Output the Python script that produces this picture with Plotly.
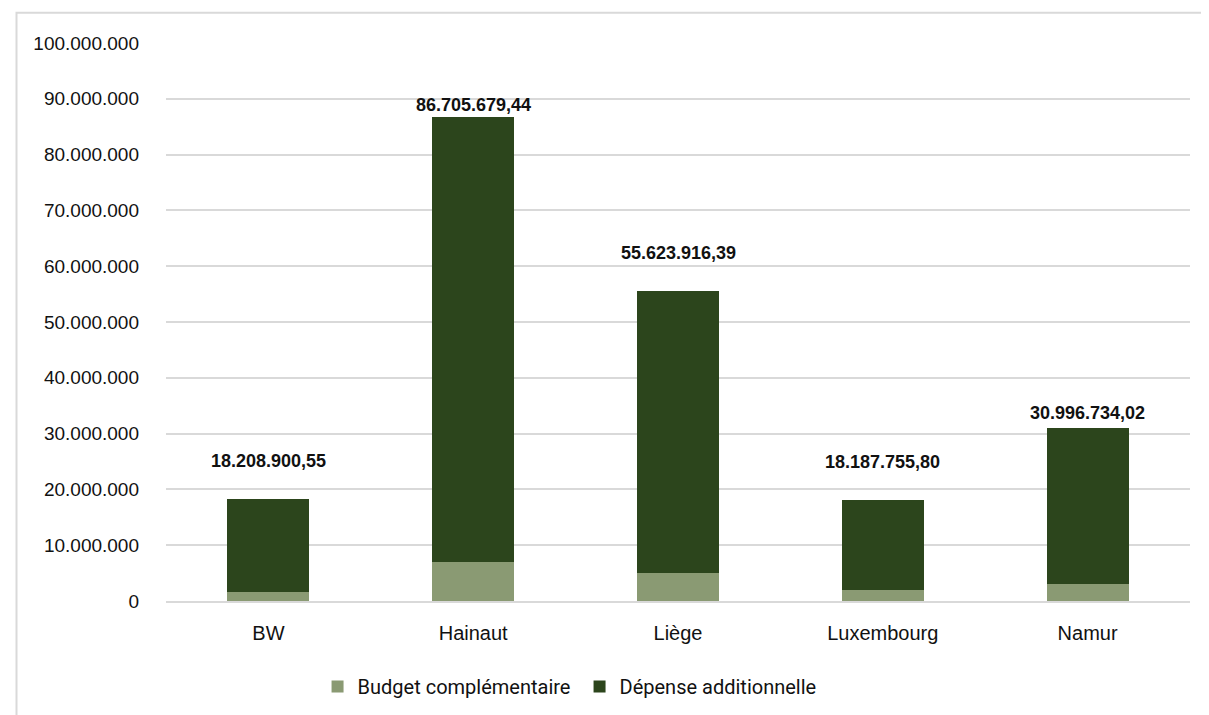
import plotly.graph_objects as go

categories = ["BW", "Hainaut", "Liège", "Luxembourg", "Namur"]
budget_complementaire = [1600000, 7000000, 5000000, 1900000, 3000000]
depense_additionnelle = [16608900.55, 79705679.44, 50623916.39, 16287755.80, 27996734.02]
totals = [18208900.55, 86705679.44, 55623916.39, 18187755.80, 30996734.02]
total_labels = ["18.208.900,55", "86.705.679,44", "55.623.916,39", "18.187.755,80", "30.996.734,02"]
label_shift = [38, 12, 38, 38, 15]
y_ticks = list(range(0, 100000001, 10000000))
y_tick_labels = ["0"] + [f"{v:,}".replace(",", ".") for v in y_ticks[1:]]

light = "#8a9a73"
dark = "#2c451c"

fig = go.Figure()
fig.add_trace(go.Bar(x=categories, y=budget_complementaire, name="Budget complémentaire",
                     marker=dict(color=light, line=dict(width=0))))
fig.add_trace(go.Bar(x=categories, y=depense_additionnelle, name="Dépense additionnelle",
                     marker=dict(color=dark, line=dict(width=0))))

for c, t, lab, s in zip(categories, totals, total_labels, label_shift):
    fig.add_annotation(x=c, y=t, text=f"<b>{lab}</b>", showarrow=False, yshift=s,
                       font=dict(family="Liberation Sans, Arial", size=18, color="#111111"))

fig.add_shape(type="rect", xref="paper", yref="paper", x0=-0.146, x1=1.2, y0=-0.6, y1=1.054,
              line=dict(color="#d9d9d9", width=2), fillcolor="rgba(0,0,0,0)", layer="below")

fig.update_layout(
    barmode="stack",
    bargap=0.6,
    width=1201, height=707,
    margin=dict(l=158, r=19, t=35, b=114),
    paper_bgcolor="white", plot_bgcolor="white",
    font=dict(family="Liberation Sans, Arial", size=19, color="#111111"),
    separators=",.",
    showlegend=True,
    legend=dict(orientation="h", x=0.148, xanchor="left", yref="container", y=0.068, yanchor="top",
                font=dict(family="Roboto, Liberation Sans", size=20, color="#111111"),
                traceorder="normal", itemwidth=30, entrywidth=217, entrywidthmode="pixels"),
    xaxis=dict(showgrid=False, showline=True, linecolor="#d9d9d9", linewidth=2,
               ticks="", tickfont=dict(size=20), ticklabelstandoff=13),
    yaxis=dict(range=[0, 100000000], tickvals=y_ticks, ticktext=y_tick_labels,
               showgrid=True, gridcolor="#d9d9d9", gridwidth=1.5, zeroline=False,
               showline=False, ticks="", tickfont=dict(size=19), ticklabelstandoff=26),
)

fig.write_html("out.html")
